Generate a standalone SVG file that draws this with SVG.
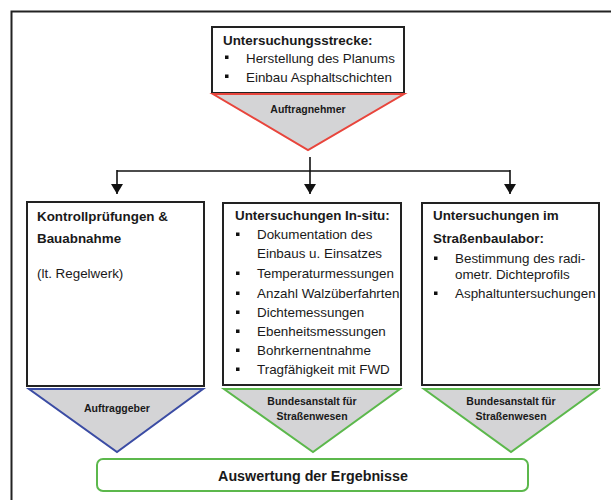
<svg xmlns="http://www.w3.org/2000/svg" width="611" height="500" viewBox="0 0 611 500">
<defs>
<marker id="ah" markerWidth="12" markerHeight="12" viewBox="0 0 12 12" refX="10" refY="6" orient="auto" markerUnits="userSpaceOnUse">
<path d="M0,0 L10,6 L0,12 Z" fill="#111"/>
</marker>
<rect id="b" width="3.5" height="3.5" fill="#111"/>
</defs>
<style>
text{font-family:"Liberation Sans",Arial,sans-serif;fill:#1a1a1a}
.t{font-size:13.4px;font-weight:bold}
.n{font-size:13.4px}
.s{font-size:10.5px;font-weight:bold;text-anchor:middle}
.box{fill:#fff;stroke:#222;stroke-width:2}
.tri{fill:#d4d4d6;stroke-width:2}
.con{fill:none;stroke:#111;stroke-width:1.6}
</style>
<rect x="11.5" y="11.5" width="620" height="520" fill="#fff" stroke="#222" stroke-width="2"/>
<g id="connectors">
<path class="con" d="M310,157 V194" marker-end="url(#ah)"/>
<path class="con" d="M117,171 H510"/>
<path class="con" d="M117,170 V194" marker-end="url(#ah)"/>
<path class="con" d="M510,170 V194" marker-end="url(#ah)"/>
</g>
<g id="node-strecke">
<rect class="box" x="212" y="27" width="192" height="66"/>
<text class="t" x="223" y="45">Untersuchungsstrecke:</text>
<use href="#b" x="225" y="55.5"/>
<text class="n" x="246" y="63">Herstellung des Planums</text>
<use href="#b" x="225" y="74.5"/>
<text class="n" x="246" y="82">Einbau Asphaltschichten</text>
</g>
<g id="node-auftragnehmer">
<polygon class="tri" points="213,94 404,94 308,150" stroke="#e8453c"/>
<text class="s" x="308" y="113">Auftragnehmer</text>
</g>
<g id="node-kontroll">
<rect class="box" x="27" y="202" width="177" height="184"/>
<text class="t" x="37" y="221">Kontrollprüfungen &amp;</text>
<text class="t" x="37" y="243">Bauabnahme</text>
<text class="n" x="37" y="278">(lt. Regelwerk)</text>
</g>
<g id="node-insitu">
<rect class="box" x="223" y="203" width="178" height="182"/>
<text class="t" x="235" y="220">Untersuchungen In-situ:</text>
<use href="#b" x="236" y="232.5"/>
<text class="n" x="257" y="239">Dokumentation des</text>
<text class="n" x="257" y="258">Einbaus u. Einsatzes</text>
<use href="#b" x="236" y="271.5"/>
<text class="n" x="257" y="278">Temperaturmessungen</text>
<use href="#b" x="236" y="291.5"/>
<text class="n" x="257" y="298">Anzahl Walzüberfahrten</text>
<use href="#b" x="236" y="310.5"/>
<text class="n" x="257" y="317">Dichtemessungen</text>
<use href="#b" x="236" y="329.5"/>
<text class="n" x="257" y="336">Ebenheitsmessungen</text>
<use href="#b" x="236" y="348.5"/>
<text class="n" x="257" y="355">Bohrkernentnahme</text>
<use href="#b" x="236" y="367.5"/>
<text class="n" x="257" y="374">Tragfähigkeit mit FWD</text>
</g>
<g id="node-labor">
<rect class="box" x="422" y="203" width="177" height="182"/>
<text class="t" x="433" y="220">Untersuchungen im</text>
<text class="t" x="433" y="243">Straßenbaulabor:</text>
<use href="#b" x="434" y="256.5"/>
<text class="n" x="455" y="263">Bestimmung des radi-</text>
<text class="n" x="455" y="279">ometr. Dichteprofils</text>
<use href="#b" x="434" y="291.5"/>
<text class="n" x="455" y="298">Asphaltuntersuchungen</text>
</g>
<g id="node-auftraggeber">
<polygon class="tri" points="29,389 203,389 117,452" stroke="#3b4ca4"/>
<text class="s" x="117" y="412">Auftraggeber</text>
</g>
<g id="node-bast1">
<polygon class="tri" points="224,389 400,389 313,452" stroke="#5cb84c"/>
<text class="s" x="312" y="405">Bundesanstalt für</text>
<text class="s" x="312" y="420">Straßenwesen</text>
</g>
<g id="node-bast2">
<polygon class="tri" points="424,389 598,389 511,452" stroke="#5cb84c"/>
<text class="s" x="511" y="405">Bundesanstalt für</text>
<text class="s" x="511" y="420">Straßenwesen</text>
</g>
<g id="node-auswertung">
<rect x="97" y="459" width="431" height="32" rx="6" fill="#fff" stroke="#5cb84c" stroke-width="2"/>
<text x="313" y="481" style="font-size:14.3px;font-weight:bold;text-anchor:middle">Auswertung der Ergebnisse</text>
</g>
</svg>
